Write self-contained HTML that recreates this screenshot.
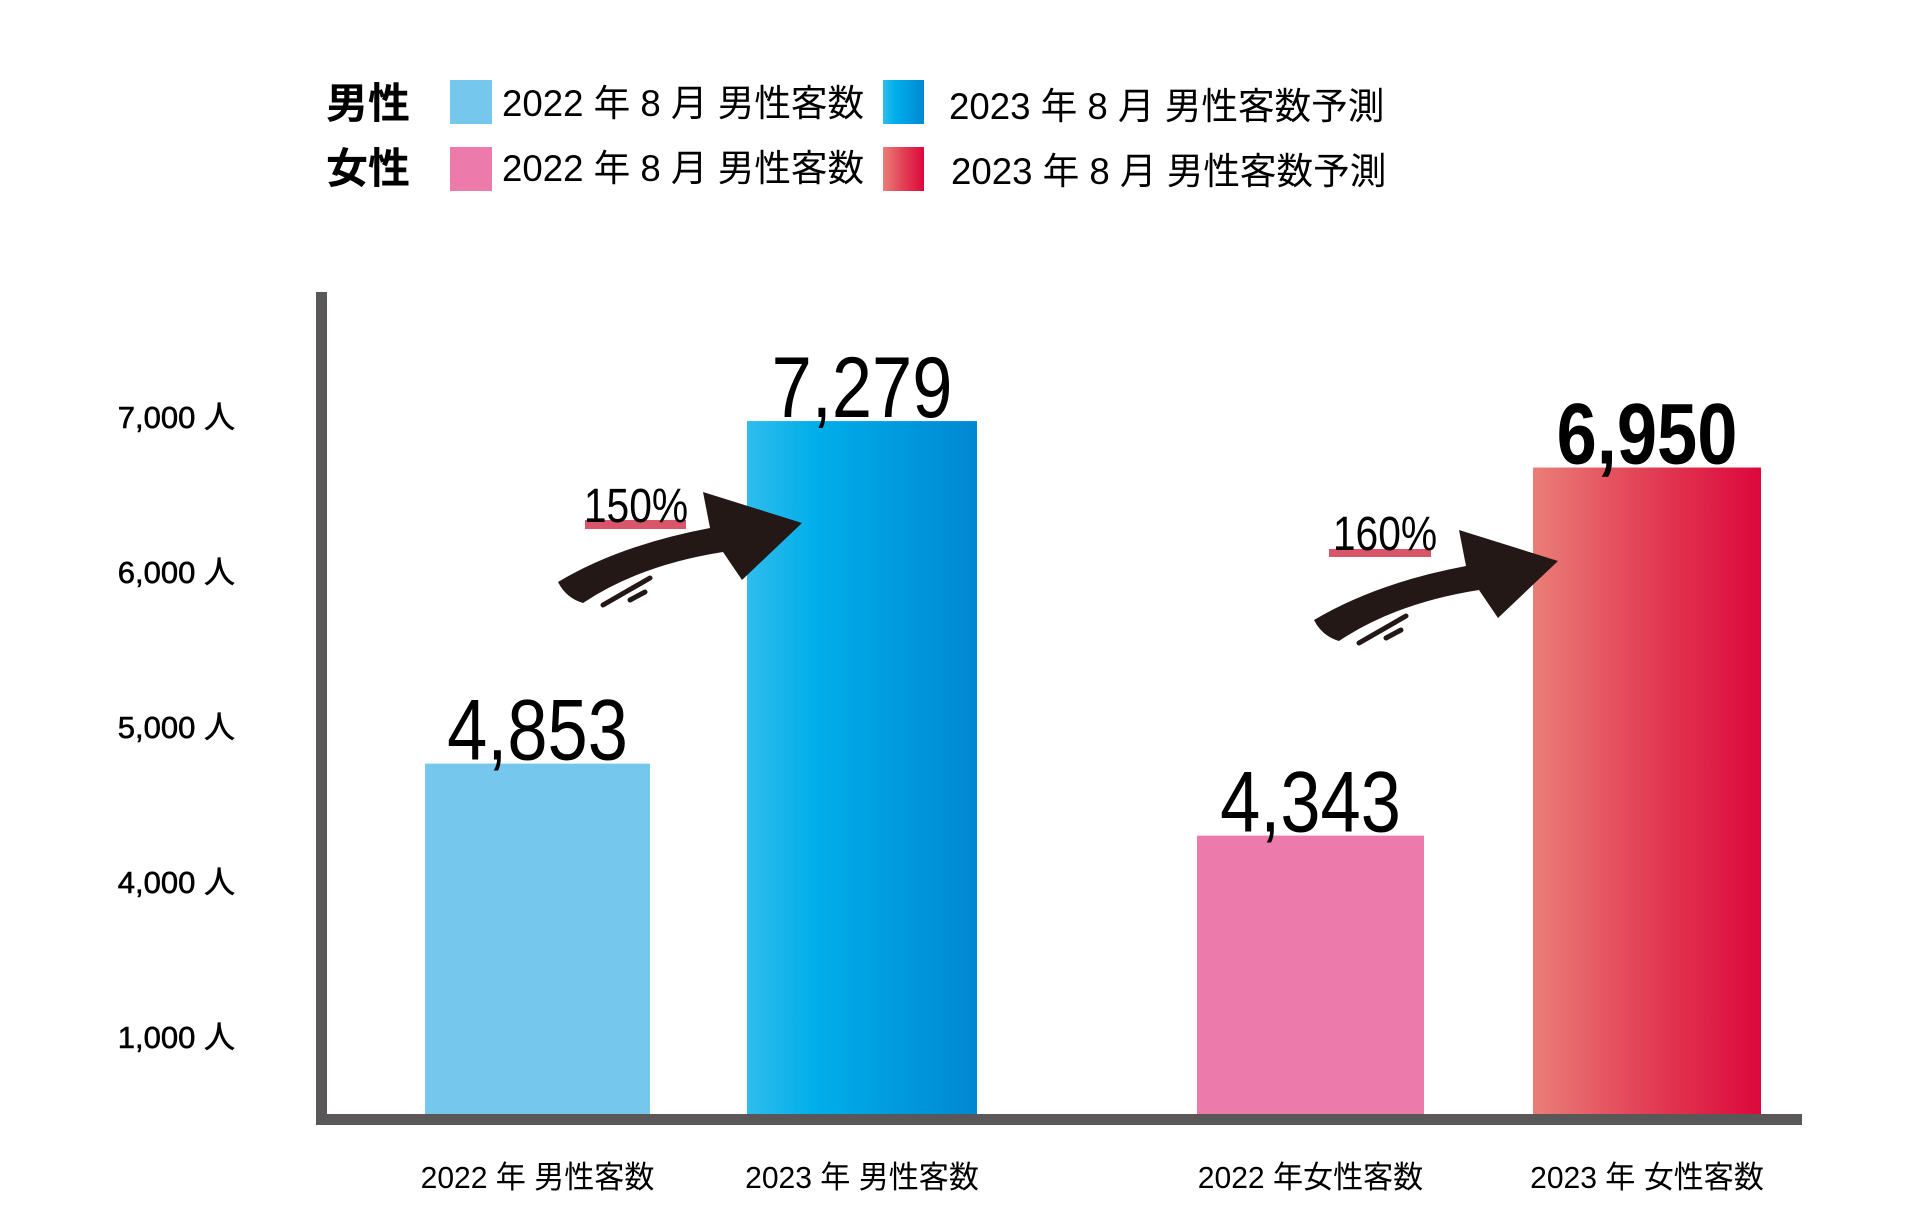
<!DOCTYPE html>
<html><head><meta charset="utf-8">
<style>
html,body{margin:0;padding:0;background:#fff;}
svg{display:block;}
text{font-family:"Liberation Sans","Noto Sans CJK JP",sans-serif;}
</style></head>
<body>
<svg id="chart" width="1920" height="1226" viewBox="0 0 1920 1226" xmlns="http://www.w3.org/2000/svg">
<defs>
<linearGradient id="gBlue" x1="0" x2="1" y1="0" y2="0"><stop offset="0" stop-color="#2fbdec"/><stop offset="0.3" stop-color="#00aeea"/><stop offset="1" stop-color="#0088d2"/></linearGradient>
<linearGradient id="gRed" x1="0" x2="1" y1="0" y2="0"><stop offset="0" stop-color="#ea7e78"/><stop offset="0.5" stop-color="#e23f55"/><stop offset="1" stop-color="#dc083b"/></linearGradient>
</defs>
<g>
<text x="326" y="118" font-size="42" font-weight="bold">男性</text>
<text x="326" y="183" font-size="42" font-weight="bold">女性</text>
<rect x="450" y="80" width="42" height="44" fill="#75c7ee"/>
<rect x="883" y="80" width="41" height="44" fill="url(#gBlue)"/>
<rect x="450" y="147" width="42" height="44" fill="#ec7aab"/>
<rect x="883" y="147" width="41" height="44" fill="url(#gRed)"/>
<text x="502" y="116" font-size="37" transform="translate(502 0) scale(0.99 1) translate(-502 0)">2022 年 8 月 男性客数</text>
<text x="949" y="119" font-size="37" transform="translate(949 0) scale(0.99 1) translate(-949 0)">2023 年 8 月 男性客数予測</text>
<text x="502" y="181" font-size="37" transform="translate(502 0) scale(0.99 1) translate(-502 0)">2022 年 8 月 男性客数</text>
<text x="951" y="184" font-size="37" transform="translate(951 0) scale(0.99 1) translate(-951 0)">2023 年 8 月 男性客数予測</text>
</g>
<g id="ticks"></g>
<g id="bars"></g>
<g id="labels"></g>
<g id="xlabels"></g>
<rect x="316" y="292" width="11" height="833" fill="#595757"/>
<rect x="316" y="1114" width="1486" height="11" fill="#595757"/>
<g>
<rect x="585" y="520" width="101" height="9" fill="#d9566a"/>
<text x="636" y="522" font-size="48" text-anchor="middle" transform="translate(636 0) scale(0.85 1) translate(-636 0)">150%</text>
<path d="M558,582 Q620,545 710,528 L703,492 L802,523 L742,580 L723,552 Q640,565 583,603 Q566,598 558,582 Z" fill="#231815"/>
<path d="M603,605 L650,578 M630,600 L645,592" stroke="#231815" stroke-width="5" stroke-linecap="round" fill="none"/>
</g>
<g>
<rect x="1329" y="549" width="102" height="8" fill="#d9566a"/>
<text x="1385" y="550" font-size="48" text-anchor="middle" transform="translate(1385 0) scale(0.85 1) translate(-1385 0)">160%</text>
<g transform="translate(756 38)">
<path d="M558,582 Q620,545 710,528 L703,492 L802,523 L742,580 L723,552 Q640,565 583,603 Q566,598 558,582 Z" fill="#231815"/>
<path d="M603,605 L650,578 M630,600 L645,592" stroke="#231815" stroke-width="5" stroke-linecap="round" fill="none"/>
</g>
</g>
</svg>
<script>
const categories = ["2022 年 男性客数", "2023 年 男性客数", "2022 年女性客数", "2023 年 女性客数"];
const values = [4853, 7279, 4343, 6950];
const valueLabels = ["4,853", "7,279", "4,343", "6,950"];
const tickValues = [1000, 4000, 5000, 6000, 7000];
const tickLabels = ["1,000 人", "4,000 人", "5,000 人", "6,000 人", "7,000 人"];

const NS = "http://www.w3.org/2000/svg";
const baseY = 1114;
function yScale(v){ return 622 - 0.1412 * (v - 5856); }
function tickY(i){ return 1037 - i * 155; }   // axis printed with uneven (broken) spacing
const barLeft = [425, 747, 1197, 1533];
const barW = [225, 230, 227, 228];
const fills = ["#75c7ee", "url(#gBlue)", "#ec7aab", "url(#gRed)"];
const barNames = ["bar-male-2022", "bar-male-2023", "bar-female-2022", "bar-female-2023"];

const tg = document.getElementById("ticks");
tickValues.forEach((v, i) => {
  const t = document.createElementNS(NS, "text");
  t.setAttribute("x", 235);
  t.setAttribute("y", tickY(i) + 11);
  t.setAttribute("font-size", "31");
  t.setAttribute("text-anchor", "end");
  t.setAttribute("stroke", "#000");
  t.setAttribute("stroke-width", "0.6");
  t.textContent = tickLabels[i];
  
  
  tg.appendChild(t);
});

const bg = document.getElementById("bars");
const lg = document.getElementById("labels");
const xg = document.getElementById("xlabels");
values.forEach((v, i) => {
  const y = yScale(v);
  const r = document.createElementNS(NS, "rect");
  r.setAttribute("x", barLeft[i]);
  r.setAttribute("y", y);
  r.setAttribute("width", barW[i]);
  r.setAttribute("height", baseY - y);
  r.setAttribute("fill", fills[i]);
  
  
  bg.appendChild(r);

  const cx = barLeft[i] + barW[i] / 2;
  const t = document.createElementNS(NS, "text");
  t.setAttribute("x", cx);
  t.setAttribute("y", y - 4);
  t.setAttribute("font-size", "86");
  t.setAttribute("text-anchor", "middle");
  if (i === 3) t.setAttribute("font-weight", "bold");
  t.setAttribute("transform", `translate(${cx} 0) scale(0.84 1) translate(${-cx} 0)`);
  t.textContent = valueLabels[i];
  
  
  lg.appendChild(t);

  const xl = document.createElementNS(NS, "text");
  xl.setAttribute("x", cx);
  xl.setAttribute("y", 1188);
  xl.setAttribute("font-size", "31");
  xl.setAttribute("text-anchor", "middle");
  xl.setAttribute("transform", `translate(${cx} 0) scale(0.97 1) translate(${-cx} 0)`);
  xl.textContent = categories[i];
  
  
  xg.appendChild(xl);
});
</script>
</body></html>
